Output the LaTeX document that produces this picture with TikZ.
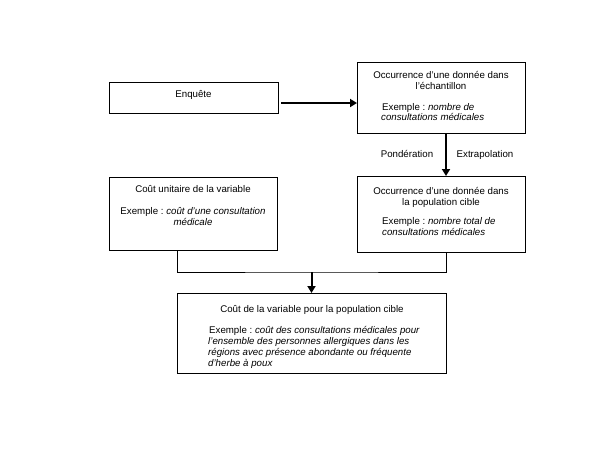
\documentclass[tikz,border=0pt]{standalone}
\usepackage{fontspec}
\setmainfont{Liberation Sans}
\usetikzlibrary{arrows.meta}
\frenchspacing
\begin{document}
\begin{tikzpicture}[x=1pt,y=-1pt,
  box/.style={draw,line width=1pt,anchor=north west,inner sep=0,outer sep=0},
  lbl/.style={font=\fontsize{9.7}{11}\selectfont\frenchspacing,inner sep=0,anchor=base},
  lblw/.style={lbl,anchor=base west},
  arr/.style={line width=2pt,-{Triangle[length=7pt,width=8pt]}},
  link/.style={line width=1pt}]
\useasboundingbox[fill=white] (0,0) rectangle (605,456);
% boxes
\node[box,minimum width=169,minimum height=31] (b1) at (109,82) {};
\node[box,minimum width=168,minimum height=71] (b2) at (357,62) {};
\node[box,minimum width=168,minimum height=73] (b3) at (109,177) {};
\node[box,minimum width=168,minimum height=76] (b4) at (357,176) {};
\node[box,minimum width=269,minimum height=80] (b5) at (177,293) {};
% texts
\node[lbl] (t1) at (193.5,97) {Enquête};
\node[lbl] (t2a) at (441,78) {Occurrence d'une donnée dans};
\node[lbl] (t2b) at (441,89) {l'échantillon};
\node[lblw] (t2c) at (382,110) {Exemple : \textit{nombre de}};
\node[lblw] (t2d) at (381,120) {\textit{consultations médicales}};
\node[lbl] (lp) at (407,157) {Pondération};
\node[lbl] (le) at (485,157) {Extrapolation};
\node[lbl] (t3a) at (193,192) {Coût unitaire de la variable};
\node[lbl] (t3b) at (193,214) {Exemple : \textit{coût d'une consultation}};
\node[lbl] (t3c) at (193,225) {\textit{médicale}};
\node[lbl] (t4a) at (441,194) {Occurrence d'une donnée dans};
\node[lbl] (t4b) at (441,205) {la population cible};
\node[lblw] (t4c) at (382,224) {Exemple : \textit{nombre total de}};
\node[lblw] (t4d) at (382,235) {\textit{consultations médicales}};
\node[lbl] (t5a) at (312,312) {Coût de la variable pour la population cible};
\node[lblw] (t5b) at (209,333) {Exemple : \textit{coût des consultations médicales pour}};
\node[lblw] (t5c) at (208,344) {\textit{l'ensemble des personnes allergiques dans les}};
\node[lblw] (t5d) at (208,355) {\textit{régions avec présence abondante ou fréquente}};
\node[lblw] (t5e) at (208,366) {\textit{d'herbe à poux}};
% connectors
\draw[arr] ([xshift=3,yshift=-5.5]b1.east) -- ([yshift=-5.5]b2.west);
\draw[arr] ([xshift=5]b2.south) -- ([xshift=5]b4.north);
\coordinate (j) at (b5.north |- 0,272);
\draw[link] (b3.south -| b5.west) |- (j) -| (b4.south -| b5.east);
\draw[arr] (j) -- (b5.north);
\end{tikzpicture}
\end{document}
